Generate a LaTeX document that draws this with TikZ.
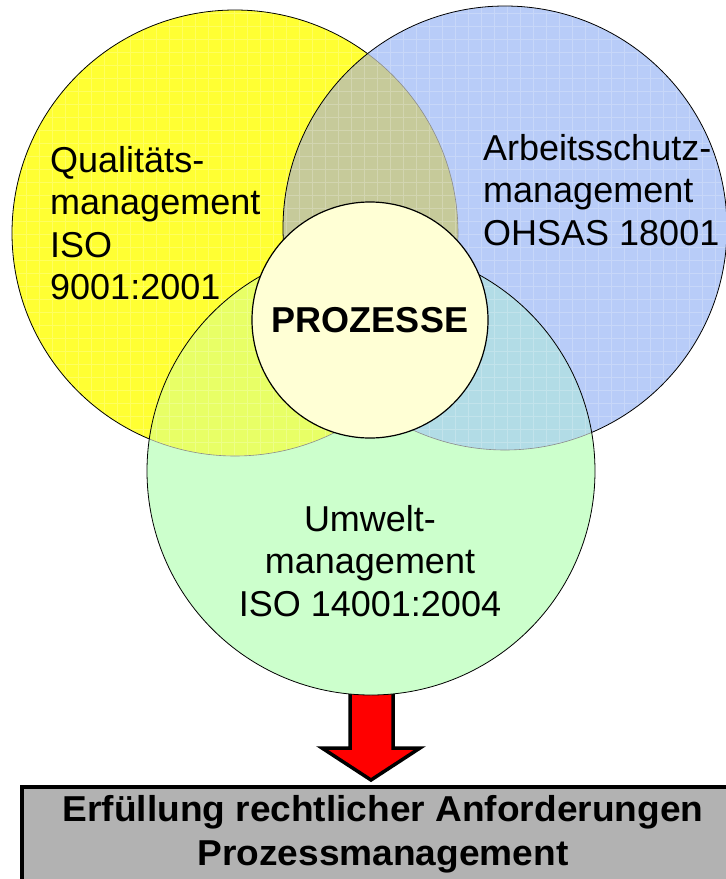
\documentclass[tikz,border=0pt]{standalone}
\usepackage{fontspec}
\usetikzlibrary{calc}
\setmainfont{Liberation Sans}
\newfontfamily\goalfont[FakeStretch=1.03]{Liberation Sans}
\definecolor{qmyellow}{HTML}{FFFF33}
\definecolor{qmblue}{HTML}{B8CCF8}
\definecolor{qmgreen}{HTML}{CCFFCC}
\definecolor{qmyb}{HTML}{C6CA9A}
\definecolor{qmyg}{HTML}{E8FF66}
\definecolor{qmbg}{HTML}{B2DCE6}
\definecolor{qmcore}{HTML}{FFFFD5}
\definecolor{qmgoal}{HTML}{B2B2B2}
\tikzset{
  ring/.style={draw=black, line width=0.8pt},
  ringfaint/.style={draw=black!45, line width=0.6pt},
  lbl/.style={inner sep=0pt, font=\fontsize{36}{42.5}\selectfont},
  arrowshape/.style={fill=red, draw=black, line width=3.5pt, line join=miter},
  goalbox/.style={fill=qmgoal, draw=black, line width=3.5pt},
  texture/.style={draw=white, line width=1pt, opacity=0.22},
}
\begin{document}
\begin{tikzpicture}[x=1pt,y=-1pt]
\useasboundingbox (0,0) rectangle (726,879);
\def\ry{223pt}\def\rb{222pt}\def\rg{224pt}
\coordinate (cy) at (235,233);
\coordinate (cb) at (505,228);
\coordinate (cg) at (371,471);
\coordinate (tip) at (371,780);

% block arrow from the environment circle down to the result box
\draw[arrowshape] ($(tip)+(-21,-90)$) -- ($(tip)+(22,-90)$) -- ($(tip)+(22,-32)$)
  -- ($(tip)+(49,-32)$) -- (tip) -- ($(tip)+(-49,-32)$) -- ($(tip)+(-21,-32)$) -- cycle;

% quality management circle
\fill[qmyellow] (cy) circle[radius=\ry];
\begin{scope}
  \clip (cy) circle[radius=\ry];
  \draw[texture] (0,0) grid[step=13pt] (726,700);
\end{scope}
\draw[ring] (cy) circle[radius=\ry];

% occupational safety circle
\fill[qmblue] (cb) circle[radius=\rb];
\begin{scope}
  \clip (cy) circle[radius=\ry];
  \fill[qmyb] (cb) circle[radius=\rb];
\end{scope}
\begin{scope}
  \clip (cb) circle[radius=\rb];
  \draw[texture] (0,0) grid[step=13pt] (726,700);
  \draw[ringfaint] (cy) circle[radius=\ry];
\end{scope}
\draw[ring] (cb) circle[radius=\rb];

% environment circle
\fill[qmgreen] (cg) circle[radius=\rg];
\begin{scope}
  \clip (cg) circle[radius=\rg];
  \fill[qmyg] (cy) circle[radius=\ry];
  \fill[qmbg] (cb) circle[radius=\rb];
  \begin{scope}
    \clip (cy) circle[radius=\ry];
    \draw[texture] (0,0) grid[step=13pt] (726,700);
  \end{scope}
  \begin{scope}
    \clip (cb) circle[radius=\rb];
    \draw[texture] (0,0) grid[step=13pt] (726,700);
  \end{scope}
  \draw[ringfaint] (cy) circle[radius=\ry];
  \draw[ringfaint] (cb) circle[radius=\rb];
\end{scope}
\draw[ring] (cg) circle[radius=\rg];

% processes in the middle
\node[circle, draw=black, line width=1.2pt, fill=qmcore, minimum size=236pt, inner sep=0pt,
      font=\fontsize{36}{40}\selectfont\bfseries] (proc) at (370,320) {PROZESSE};

% circle labels
\node[lbl, anchor=north west, align=left] (qmtext) at (50,146) {Qualitäts-\\management\\ISO\\9001:2001};
\node[lbl, anchor=north west, align=left] (astext) at (483,134) {Arbeitsschutz-\\management\\OHSAS 18001};
\node[lbl, anchor=north, align=center] (umtext) at (370,505) {Umwelt-\\management\\ISO 14001:2004};

% result box
\node[goalbox, anchor=north west, minimum width=740pt, minimum height=120pt] (goal) at (20,785) {};
\node[inner sep=0pt, align=center, font=\goalfont\bfseries\fontsize{36}{44}\selectfont] (goaltext)
  at (383,834) {Erfüllung rechtlicher Anforderungen\\Prozessmanagement};
\end{tikzpicture}
\end{document}
